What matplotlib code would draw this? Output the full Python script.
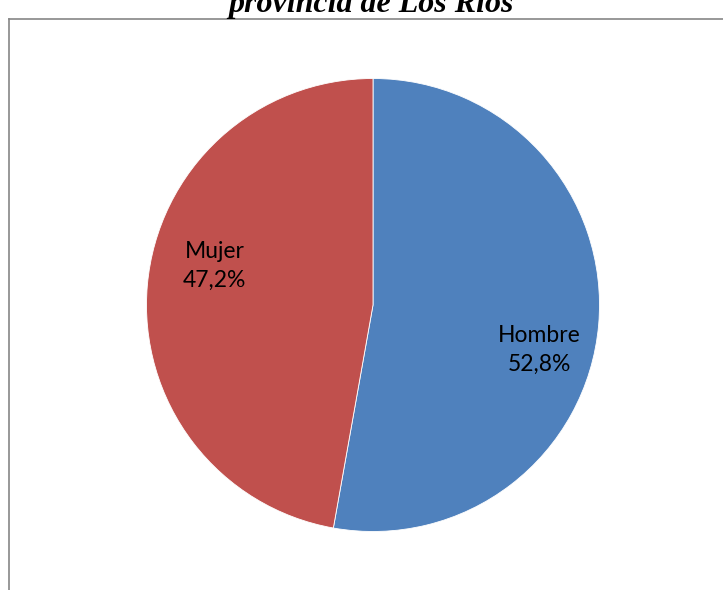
import matplotlib
matplotlib.use("Agg")
import matplotlib.pyplot as plt
import numpy as np

categories = ["Hombre", "Mujer"]
values = [52.8, 47.2]
value_labels = ["52,8%", "47,2%"]
colors = ["#4F81BD", "#C0504D"]
title = "provincia de Los Ríos"

W, H = 723, 590
fig = plt.figure(figsize=(W / 100, H / 100), dpi=100)

# border of chart area
border = fig.add_axes([8.5 / W, -0.2, 1.2, 0.2 + (H - 18.5) / H])
border.set_xticks([]); border.set_yticks([])
for s in border.spines.values():
    s.set_color("#868686"); s.set_linewidth(1.2)
border.patch.set_alpha(0)

cx, cy, r = 373, 305, 226.5
ax = fig.add_axes([(cx - r) / W, (H - cy - r) / H, 2 * r / W, 2 * r / H])
ax.pie(values, colors=colors, startangle=90, counterclock=False,
       wedgeprops=dict(edgecolor="white", linewidth=0.6), radius=1.0)
ax.set_xlim(-1, 1); ax.set_ylim(-1, 1)
ax.set_aspect("equal")

label_pos = [(0.733, -0.20), (-0.698, 0.172)]
for cat, vl, (x, y) in zip(categories, value_labels, label_pos):
    ax.text(x, y, f"{cat}\n{vl}", ha="center", va="center", fontsize=16.5,
            family="Lato", linespacing=1.45)

fig.text(371 / W, 1 - 12 / H, title, ha="center", va="baseline",
         fontsize=23, family="Liberation Serif", weight="bold", style="italic")

fig.savefig("out.png", dpi=100)
